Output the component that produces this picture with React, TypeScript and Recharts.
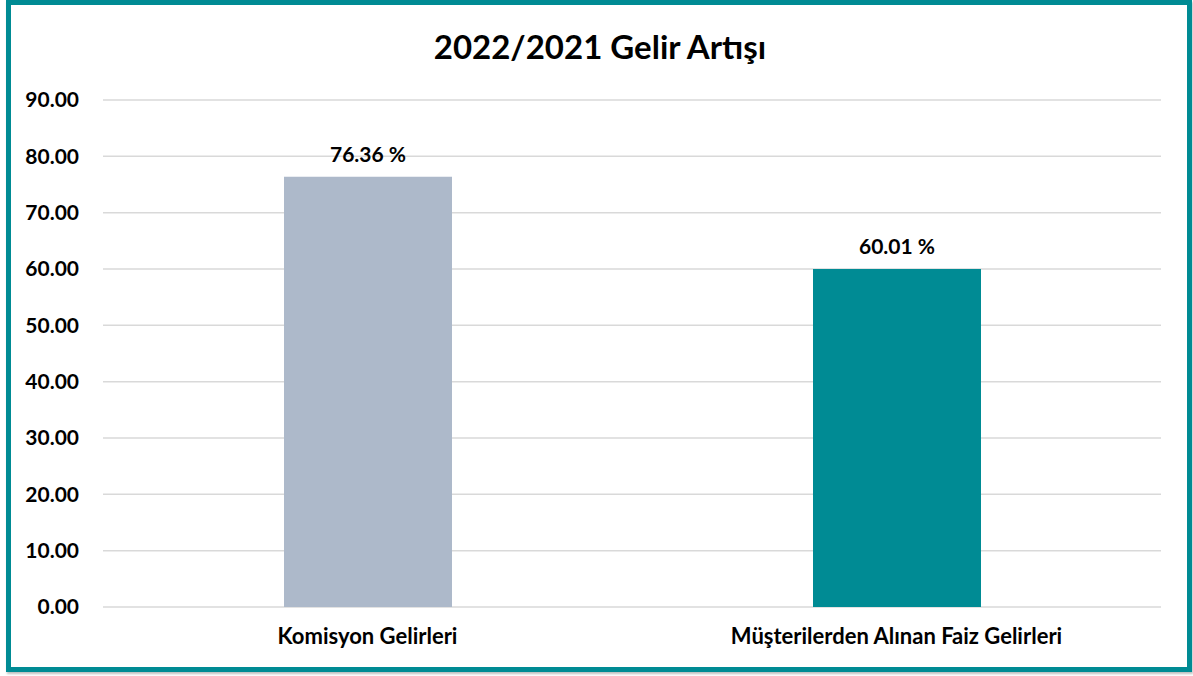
import { BarChart, Bar, XAxis, YAxis, CartesianGrid, Cell, LabelList } from "recharts";

const categories = ["Komisyon Gelirleri", "Müşterilerden Alınan Faiz Gelirleri"];
const growth = [76.36, 60.01];
const barColors = ["#ADB9CA", "#008B94"];
const yTicks = [0, 10, 20, 30, 40, 50, 60, 70, 80, 90];

const chartData = categories.map((name, i) => ({ name, value: growth[i] }));

const font = "Lato, 'Open Sans', sans-serif";

export default function App() {
  return (
    <div style={{ position: "fixed", left: 0, top: 0, width: 1193, height: 676, background: "#fff", overflow: "hidden" }}>
      <div
        style={{
          position: "absolute",
          left: 0,
          top: 26,
          width: 1200,
          textAlign: "center",
          fontFamily: font,
          fontWeight: 700,
          fontSize: 33,
          color: "#000",
        }}
      >
        2022/2021 Gelir Artışı
      </div>
      <div style={{ position: "absolute", left: 0, top: 0 }}>
        <BarChart
          width={1193}
          height={676}
          data={chartData}
          margin={{ top: 100, right: 32, bottom: 0, left: 0 }}
          barSize={168}
        >
          <CartesianGrid vertical={false} stroke="#D9D9D9" strokeWidth={1.5} />
          <XAxis
            dataKey="name"
            height={69}
            axisLine={false}
            tickLine={false}
            interval={0}
            tick={{ fill: "#000", fontSize: 22, fontWeight: 700, fontFamily: font }}
            dy={13}
          />
          <YAxis
            width={103}
            domain={[0, 90]}
            ticks={yTicks}
            axisLine={false}
            tickLine={false}
            tickFormatter={(v: number) => v.toFixed(2)}
            tick={{ fill: "#000", fontSize: 21, fontWeight: 700, fontFamily: font }}
            dx={-16}
          />
          <Bar dataKey="value" isAnimationActive={false}>
            {chartData.map((d, i) => (
              <Cell key={d.name} fill={barColors[i]} />
            ))}
            <LabelList
              dataKey="value"
              position="top"
              offset={15}
              formatter={(v: any) => `${Number(v).toFixed(2)} %`}
              style={{ fill: "#000", fontSize: 21, fontWeight: 700, fontFamily: font }}
            />
          </Bar>
        </BarChart>
      </div>
      <div
        style={{
          position: "absolute",
          left: 6,
          top: 0,
          width: 1176,
          height: 662,
          border: "5px solid #008B94",
          boxShadow: "1px 2px 2px rgba(0,0,0,0.25)",
          pointerEvents: "none",
        }}
      />
    </div>
  );
}
